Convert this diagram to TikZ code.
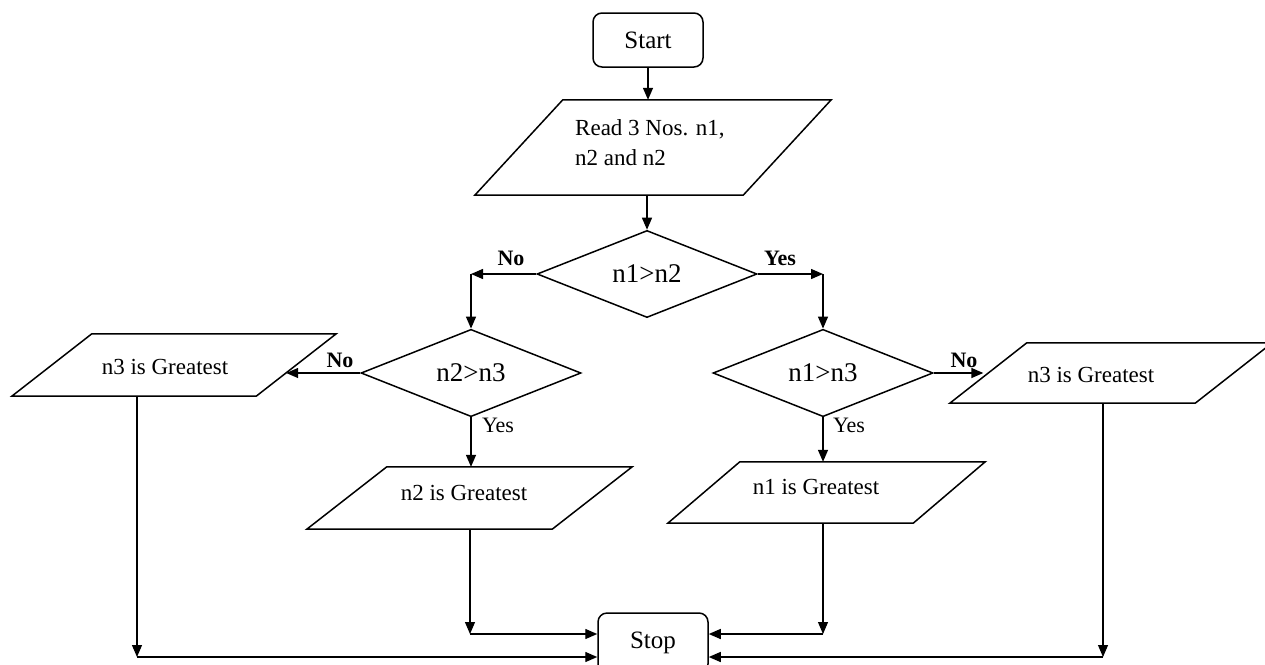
\documentclass[tikz,border=0pt]{standalone}
\usepackage{fontspec}
\setmainfont{Liberation Serif}
\usetikzlibrary{shapes.geometric,arrows.meta,calc}

% parallelogram: name, centre x, centre y, side length, height, slant
\newcommand{\ioshape}[6]{%
  \node[iobox,minimum width=#4pt,minimum height=#5pt] (#1) at (#2,#3) {};
  \draw[outline] ($(#1.north west)+(#6/2,0)$) -- ($(#1.north east)+(#6/2,0)$)
    -- ($(#1.south east)+(-#6/2,0)$) -- ($(#1.south west)+(-#6/2,0)$) -- cycle;}

\begin{document}
\begin{tikzpicture}[x=1pt,y=-1pt,
  outline/.style={line width=1.5pt,line join=miter},
  iobox/.style={draw=none,inner sep=0pt},
  term/.style={draw,line width=1.5pt,rounded corners=9pt,minimum width=110pt,
    inner sep=0pt,font=\fontsize{25}{30}\selectfont},
  diam/.style={draw,diamond,line width=1.5pt,minimum width=220pt,minimum height=81pt,
    inner sep=0pt,font=\fontsize{27}{32}\selectfont},
  txt/.style={inner sep=0pt,font=\fontsize{23}{30}\selectfont},
  lbl/.style={inner sep=0pt,font=\bfseries\fontsize{22}{26}\selectfont},
  lblr/.style={inner sep=0pt,font=\fontsize{22}{26}\selectfont},
  arr/.style={line width=1.4pt,-{Triangle[length=12pt,width=10pt]}},
  thin arr/.style={line width=1.1pt,-{Triangle[length=12pt,width=10pt]}}]

\fill[white] (0,0) rectangle (1265,664);
\useasboundingbox (0,0) rectangle (1265,664);

% terminals
\node[term,minimum height=54pt] (start) at (648,40) {Start};
\node[term,minimum height=60pt] (stop) at (653,643) {Stop};

% input
\ioshape{read}{653}{147.5}{268}{95}{88}
\node[txt,anchor=west,align=left] (readtext) at (575,143) {Read 3 Nos. n1,\\n2 and n2};

% decisions
\node[diam] (d1) at (647,274) {n1>n2};
\node[diam] (d2) at (471,373) {n2>n3};
\node[diam] (d3) at (823,373) {n1>n3};

% outputs
\ioshape{n3a}{174}{365}{244}{62}{80}
\node[txt] (n3atext) at (165,367) {n3 is Greatest};
\ioshape{n2}{469.5}{498}{245}{62}{80}
\node[txt] (n2text) at (464,493) {n2 is Greatest};
\ioshape{n1}{826.5}{492.5}{245}{61}{72}
\node[txt] (n1text) at (816,487) {n1 is Greatest};
\ioshape{n3b}{1111}{373}{245}{60}{77}
\node[txt] (n3btext) at (1091,375) {n3 is Greatest};

% entry points on the slanted sides and on the stop box
\coordinate (n3ain) at ($(n3a.east |- d2.west)+(-10,0)$);
\coordinate (n3bin) at ($(n3b.west)+(-5,0)$);
\coordinate (sl1) at ($(stop.west)+(0,-9)$);
\coordinate (sl2) at ($(stop.west)+(0,14)$);
\coordinate (sr1) at ($(stop.east)+(0,-9)$);
\coordinate (sr2) at ($(stop.east)+(0,14)$);

% main flow
\draw[arr] (start.south) -- (start.south |- read.north);
\draw[arr] (d1.north |- read.south) -- (d1.north);

% first decision
\coordinate (d1no) at (d2.north |- d1.west);
\coordinate (d1yes) at (d3.north |- d1.east);
\draw[arr] (d1.west) -- (d1no);
\draw[arr] (d1no) -- (d2.north);
\draw[arr] (d1.east) -- (d1yes);
\draw[arr] (d1yes) -- (d3.north);
\node[lbl] (l1no) at (511,258) {No};
\node[lbl] (l1yes) at (780,258) {Yes};

% second decisions
\draw[arr] (d2.west) -- (n3ain);
\draw[arr] (d2.south) -- (d2.south |- n2.north);
\draw[arr] (d3.east) -- (n3bin);
\draw[arr] (d3.south) -- (d3.south |- n1.north);
\node[lbl] (l2no) at (340,360) {No};
\node[lblr] (l2yes) at (498,425) {Yes};
\node[lbl] (l3no) at (964,360) {No};
\node[lblr] (l3yes) at (849,425) {Yes};

% results to stop
\coordinate (n2out) at ($(n2.south)+(0.5,0)$);
\draw[thin arr] (n2out) -- (n2out |- sl1);
\draw[arr] (n2out |- sl1) -- (sl1);
\coordinate (n1out) at ($(n1.south)+(-3.5,0)$);
\draw[thin arr] (n1out) -- (n1out |- sr1);
\draw[arr] (n1out |- sr1) -- (sr1);
\coordinate (n3aout) at ($(n3a.south)+(-37,0)$);
\draw[thin arr] (n3aout) -- (n3aout |- sl2);
\draw[arr] (n3aout |- sl2) -- (sl2);
\coordinate (n3bout) at ($(n3b.south)+(-8,0)$);
\draw[thin arr] (n3bout) -- (n3bout |- sr2);
\draw[arr] (n3bout |- sr2) -- (sr2);
\end{tikzpicture}
\end{document}
